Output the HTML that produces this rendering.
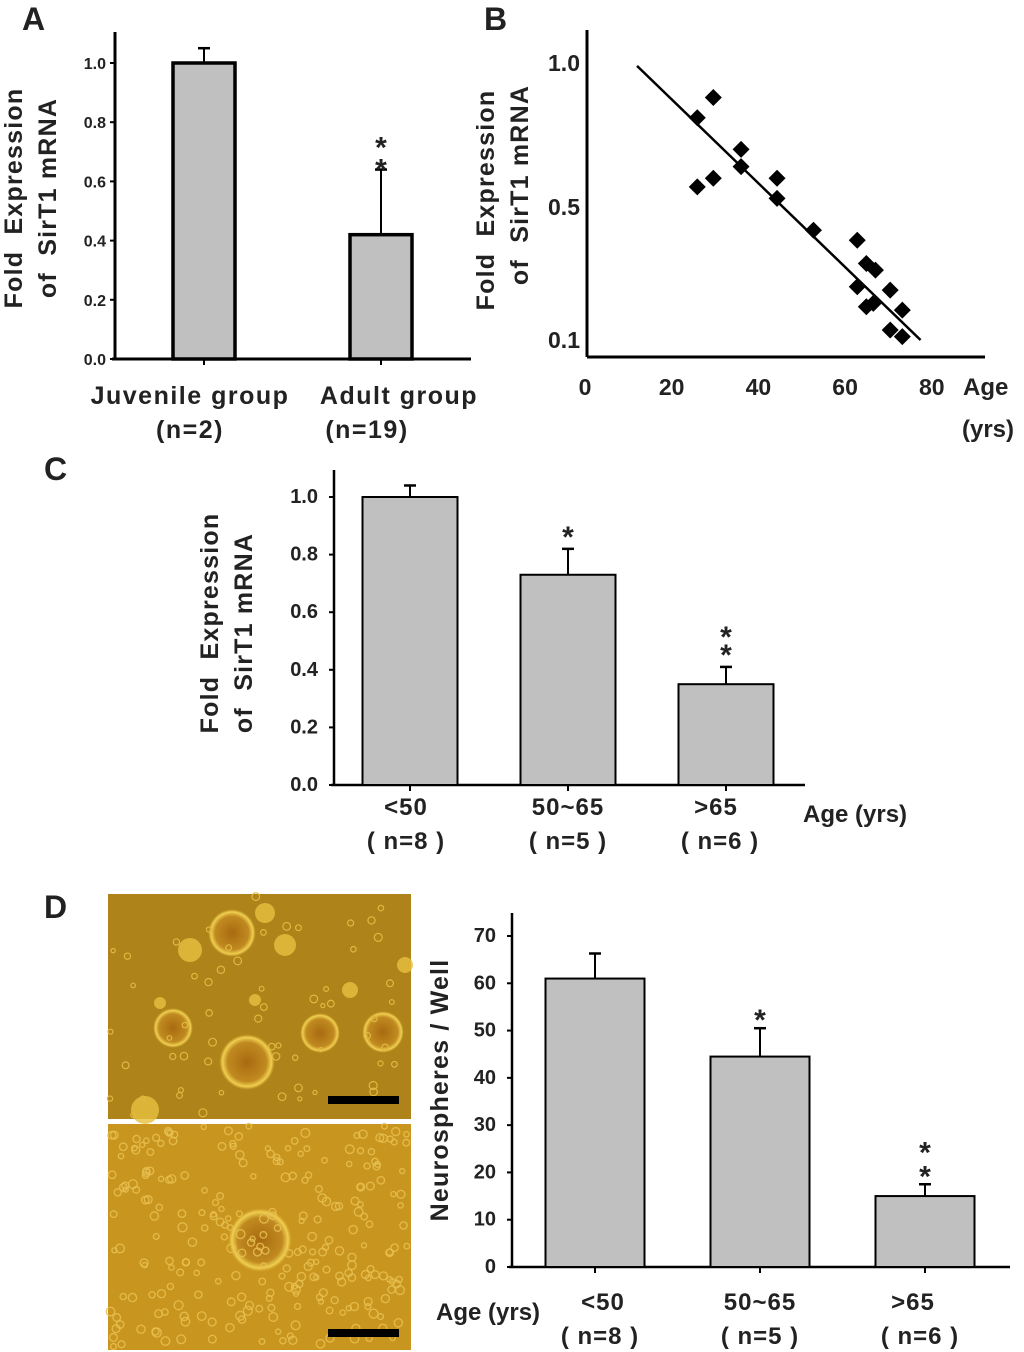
<!DOCTYPE html>
<html><head><meta charset="utf-8">
<style>
html,body{margin:0;padding:0;background:#fff;}
svg{display:block;font-family:"Liberation Sans",Arial,sans-serif;}
text{font-weight:bold;fill:#222;white-space:pre;}
.ttl{font-size:25px;letter-spacing:1.2px;}
</style></head>
<body>
<svg id="fig" width="1024" height="1352" viewBox="0 0 1024 1352">
<defs>
<radialGradient id="sph" cx="50%" cy="50%" r="50%">
<stop offset="0%" stop-color="#a86a10"/><stop offset="70%" stop-color="#c08a20"/><stop offset="88%" stop-color="#f0d050"/><stop offset="100%" stop-color="#d8a830" stop-opacity="0"/>
</radialGradient>
</defs>
<text x="22" y="30" font-size="32">A</text>
<text x="484" y="30" font-size="32">B</text>
<text x="44" y="480" font-size="32">C</text>
<text x="44" y="918" font-size="32">D</text>

<g id="pa">
<text class="ttl" transform="translate(22,198) rotate(-90)" text-anchor="middle">Fold  Expression</text>
<text class="ttl" transform="translate(56,198) rotate(-90)" text-anchor="middle">of  SirT1 mRNA</text>
</g>
<g id="pb">
<text class="ttl" transform="translate(494,200) rotate(-90)" text-anchor="middle">Fold  Expression</text>
<text class="ttl" transform="translate(528,185) rotate(-90)" text-anchor="middle">of  SirT1 mRNA</text>
<text x="963" y="395" font-size="24">Age</text>
<text x="962" y="437" font-size="24">(yrs)</text>
</g>
<g id="pc">
<text class="ttl" transform="translate(218,623) rotate(-90)" text-anchor="middle">Fold  Expression</text>
<text class="ttl" transform="translate(252,633) rotate(-90)" text-anchor="middle">of  SirT1 mRNA</text>
<text x="803" y="822" font-size="24">Age (yrs)</text>
</g>
<g>
<rect x="108" y="894" width="303" height="225" fill="#ad831a"/>
<g id="imgTop"></g>
<rect x="328" y="1096" width="71" height="8" fill="#000"/>
</g>
<g>
<rect x="108" y="1124" width="303" height="226" fill="#c8951f"/>
<g id="imgBot"></g>
<rect x="328" y="1329" width="71" height="8" fill="#000"/>
</g>
<g id="pd">
<text class="ttl" transform="translate(448,1090) rotate(-90)" text-anchor="middle">Neurospheres / Well</text>
<text x="436" y="1320" font-size="24">Age (yrs)</text>
</g>
</svg>
<script>
const aCategories = ["Juvenile group", "Adult group"];
const aN = ["(n=2)", "(n=19)"];
const aValues = [1.0, 0.42];
const aErrors = [0.05, 0.22];
const aStars = ["", "**"];
const aTicks = ["0.0","0.2","0.4","0.6","0.8","1.0"];

const bAges = [29.6,25.9,36.0,36.0,29.6,25.9,44.3,44.3,52.7,62.8,64.9,67.0,62.8,70.4,64.9,66.5,73.2,70.4,73.2];
const bValues = [0.88,0.81,0.70,0.64,0.60,0.57,0.60,0.53,0.43,0.40,0.33,0.31,0.26,0.25,0.20,0.21,0.19,0.13,0.11];
const bFitAges = [12, 77.4];
const bFitValues = [0.99, 0.10];
const bXTicks = [0,20,40,60,80];
const bYTicks = [0.1,0.5,1.0];

const cCategories = ["<50","50~65",">65"];
const cN = ["( n=8 )","( n=5 )","( n=6 )"];
const cValues = [1.0, 0.73, 0.35];
const cErrors = [0.04, 0.09, 0.06];
const cStars = ["", "*", "**"];
const cTicks = ["0.0","0.2","0.4","0.6","0.8","1.0"];

const dCategories = ["<50","50~65",">65"];
const dN = ["( n=8 )","( n=5 )","( n=6 )"];
const dValues = [61, 44.5, 15];
const dErrors = [5.3, 6, 2.5];
const dStars = ["", "*", "**"];
const dTicks = ["0","10","20","30","40","50","60","70"];

const NS = "http://www.w3.org/2000/svg";
function mk(parent, tag, attrs, txt){
  const e = document.createElementNS(NS, tag);
  for (const k in attrs) e.setAttribute(k, attrs[k]);
  if (txt !== undefined) e.textContent = txt;
  parent.appendChild(e);
  return e;
}

function barPanel(g, o, cats, ns, vals, errs, stars, ticks, prefix){
  const y = v => o.base - (v - 0) / o.max * (o.base - o.topV);
  let el;
  el = mk(g,"line",{x1:o.ax,y1:o.axTop,x2:o.ax,y2:o.base,stroke:"#000","stroke-width":o.axW});
  
  
  el = mk(g,"line",{x1:o.ax-3,y1:o.base,x2:o.axRight,y2:o.base,stroke:"#000","stroke-width":o.axW});
  
  
  ticks.forEach(t => {
    const ty = y(parseFloat(t));
    let tl = mk(g,"line",{x1:o.ax-5,y1:ty,x2:o.ax,y2:ty,stroke:"#000","stroke-width":2});
    
    
    let tt = mk(g,"text",{x:o.tickX,y:ty+6,"text-anchor":"end","font-size":o.tickFs},t);
    
    
  });
  cats.forEach((c,i) => {
    const cx = o.x0 + i*o.step;
    const yv = y(vals[i]), ye = y(vals[i]+errs[i]);
    let eb = mk(g,"line",{x1:cx,y1:yv,x2:cx,y2:ye,stroke:"#000","stroke-width":2});
    
    
    let ec = mk(g,"line",{x1:cx-6,y1:ye,x2:cx+6,y2:ye,stroke:"#000","stroke-width":2.5});
    
    
    let r = mk(g,"rect",{x:cx-o.bw/2,y:yv,width:o.bw,height:o.base-yv,fill:"#c0c0c0",stroke:"#000","stroke-width":o.barW});
    
    
    let tk = mk(g,"line",{x1:cx,y1:o.base,x2:cx,y2:o.base+6,stroke:"#000","stroke-width":2});
    
    
    if (stars[i]) {
      for (let s=0; s<stars[i].length; s++){
        let st = mk(g,"text",{x:cx,y:ye-8-s*o.starGap+o.starOff,"text-anchor":"middle","font-size":30,"font-weight":"normal"},"*");
        
        
      }
    }
    let cl = mk(g,"text",{x:cx+o.labOff[i],y:o.labY,"text-anchor":"middle","font-size":o.labFs,"letter-spacing":o.ls},c);
    
    
    let nl = mk(g,"text",{x:cx+o.nOff[i],y:o.labY+34,"text-anchor":"middle","font-size":o.labFs,"letter-spacing":o.ls},ns[i]);
    
    
  });
}

barPanel(document.getElementById('pa'),
  {base:359, topV:63, max:1.0, ax:115, axTop:32, axRight:471, axW:3, barW:3.5, tickX:106, tickFs:16,
   x0:204, step:177, bw:62, starGap:22, starOff:18, labY:404, labFs:25, ls:1.5, labOff:[-14,18], nOff:[-14,-14]},
  aCategories, aN, aValues, aErrors, aStars, aTicks, 'panel-a');

barPanel(document.getElementById('pc'),
  {base:785, topV:497, max:1.0, ax:334, axTop:470, axRight:805, axW:2.5, barW:2, tickX:318, tickFs:20,
   x0:410, step:158, bw:95, starGap:18, starOff:6, labY:815, labFs:24, ls:1, labOff:[-4,0,-10], nOff:[-4,0,-6]},
  cCategories, cN, cValues, cErrors, cStars, cTicks, 'panel-c');

barPanel(document.getElementById('pd'),
  {base:1267, topV:936, max:70, ax:512, axTop:913, axRight:1010, axW:2.5, barW:2, tickX:496, tickFs:20,
   x0:595, step:165, bw:99, starGap:24, starOff:10, labY:1310, labFs:24, ls:1, labOff:[8,0,-12], nOff:[5,0,-5]},
  dCategories, dN, dValues, dErrors, dStars, dTicks, 'panel-d');

(function(){
  const g = document.getElementById('pb');
  const bx = a => 585 + a * 4.335;
  const by = v => v <= 0.5 ? 340 - (v-0.1)/0.4*133 : 207 - (v-0.5)/0.5*144;
  let el;
  el = mk(g,"line",{x1:587,y1:30,x2:587,y2:357,stroke:"#000","stroke-width":3});
  
  
  el = mk(g,"line",{x1:587,y1:357,x2:985,y2:357,stroke:"#000","stroke-width":3});
  
  
  bYTicks.forEach(v => {
    let t = mk(g,"text",{x:580,y:by(v)+8,"text-anchor":"end","font-size":23},v.toFixed(1));
    
    
  });
  bXTicks.forEach(v => {
    let t = mk(g,"text",{x:bx(v),y:395,"text-anchor":"middle","font-size":23},String(v));
    
    
  });
  let fl = mk(g,"line",{x1:bx(bFitAges[0]),y1:by(bFitValues[0]),x2:bx(bFitAges[1]),y2:by(bFitValues[1]),stroke:"#000","stroke-width":2.5});
  
  
  bAges.forEach((a,i) => {
    const x = bx(a), y = by(bValues[i]), s = 8.5;
    let p = mk(g,"polygon",{points:`${x},${y-s} ${x+s},${y} ${x},${y+s} ${x-s},${y}`,fill:"#000"});
    
    
  });
})();

(function(){
  const top = document.getElementById('imgTop');
  const bot = document.getElementById('imgBot');
  const topSph = [[232,933,24],[247,1062,28],[320,1033,20],[383,1032,21],[173,1028,20]];
  topSph.forEach(s => { let c = mk(top,"circle",{cx:s[0],cy:s[1],r:s[2],fill:"url(#sph)"});   });
  const topBlobs = [[190,950,12],[265,913,10],[285,945,11],[350,990,8],[405,965,8],[145,1110,14],[255,1000,6],[160,1003,6]];
  topBlobs.forEach(s => { let c = mk(top,"circle",{cx:s[0],cy:s[1],r:s[2],fill:"#e6c040",opacity:0.8});   });
  let seed = 7; const rnd = () => (seed = (seed*16807)%2147483647)/2147483647;
  for (let i=0;i<60;i++){ let c = mk(top,"circle",{cx:110+rnd()*298,cy:896+rnd()*220,r:2+rnd()*2,fill:"none",stroke:"#e0b840","stroke-width":1.2});   }
  let bs = mk(bot,"circle",{cx:260,cy:1240,r:32,fill:"url(#sph)"});
   
  for (let i=0;i<260;i++){ let c = mk(bot,"circle",{cx:110+rnd()*298,cy:1126+rnd()*222,r:2.5+rnd()*2,fill:"none",stroke:"#e8c050","stroke-width":1.4,opacity:0.85});   }
})();
</script>
</body></html>
